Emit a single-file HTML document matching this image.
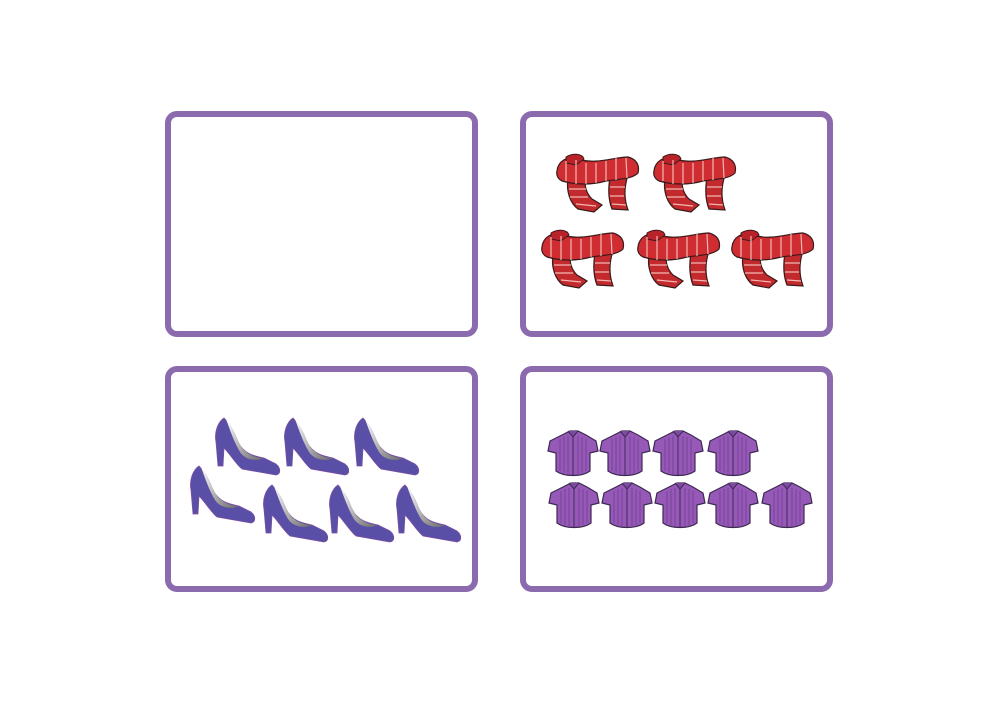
<!DOCTYPE html>
<html><head><meta charset="utf-8"><style>
html,body{margin:0;padding:0;background:#fff;width:1000px;height:703px;overflow:hidden}
</style></head><body>
<svg width="1000" height="703" viewBox="0 0 1000 703">
<defs>
<linearGradient id="inner" x1="0" y1="0" x2="1" y2="1"><stop offset="0" stop-color="#fff"/><stop offset="1" stop-color="#6a6a6a"/></linearGradient>
<g id="scarf">
<path d="M12,26 C10,38 14,50 22,56 L38,59 L46,52 L36,46 C30,40 28,32 30,26 Z" fill="#c22a2e" stroke="#3a1a1a" stroke-width="1.2"/>
<path d="M54,24 C52,36 52,46 56,56 L72,57 C68,46 68,34 72,22 Z" fill="#c22a2e" stroke="#3a1a1a" stroke-width="1.2"/>
<path d="M1,18 C2,8 12,2 22,6 C40,12 58,4 72,4 C80,6 84,12 82,20 C76,26 64,26 50,28 C36,32 20,32 6,28 C2,26 0,22 1,18 Z" fill="#cf2d32" stroke="#3a1a1a" stroke-width="1.2"/>
<path d="M10,4 C16,0 26,0 28,6 L20,12 L10,10 Z" fill="#b82228" stroke="#3a1a1a" stroke-width="1"/>
<g stroke="#f3b7b0" stroke-width="1.2" fill="none">
<path d="M10,8 L10,28 M20,7 L20,31 M30,10 L30,31 M40,10 L40,30 M50,8 L50,28 M60,5 L60,27 M70,5 L71,25"/>
<path d="M13,36 L30,36 M14,44 L32,44 M20,51 L40,53 M54,34 L69,34 M54,43 L68,43 M56,51 L70,52"/>
</g>
</g>
<g id="shoe">
<path d="M10,0 C4,4 0,14 2,24 L4,48 L9,48 L10,30 C16,36 22,46 28,51 L62,57 C67,56 67,50 62,46 L50,40 C40,38 30,36 24,24 C20,14 16,6 10,0 Z" fill="#5a4fa6" stroke="#7b4fa0" stroke-width="0.8"/>
<path d="M12,1 C18,8 22,20 28,30 C34,37 42,40 50,40 L44,42 C36,42 30,40 26,34 C20,24 16,12 12,1 Z" fill="url(#inner)"/>
</g>
<g id="shirt">
<path d="M14,4 L22,0 L30,0 L38,4 L48,10 L50,20 L42,22 L42,40 C34,46 16,46 8,40 L8,22 L0,20 L2,10 Z" fill="#9659b8" stroke="#3d2a52" stroke-width="1.2"/>
<g stroke="#6e3d8c" stroke-width="0.8"><path d="M12,8 L12,40 M16,6 L16,42 M20,5 L20,43 M30,5 L30,43 M34,6 L34,42 M38,8 L38,40"/></g>
<path d="M25,4 L25,44" stroke="#3d2a52" stroke-width="1"/>
<path d="M20,0 L25,6 L30,0" fill="#7d4aa0" stroke="#3d2a52" stroke-width="1"/>
</g>
</defs>
<rect x="168" y="114" width="307" height="220" rx="9" fill="#fff" stroke="#8b6bae" stroke-width="6"/>
<rect x="523" y="114" width="307" height="220" rx="9" fill="#fff" stroke="#8b6bae" stroke-width="6"/>
<rect x="168" y="369" width="307" height="220" rx="9" fill="#fff" stroke="#8b6bae" stroke-width="6"/>
<rect x="523" y="369" width="307" height="220" rx="9" fill="#fff" stroke="#8b6bae" stroke-width="6"/>
<g>
<use href="#scarf" x="556" y="153"/><use href="#scarf" x="653" y="153"/>
<use href="#scarf" x="541" y="229"/><use href="#scarf" x="637" y="229"/><use href="#scarf" x="731" y="229"/>
</g>
<g>
<use href="#shoe" x="214" y="418"/><use href="#shoe" x="283" y="418"/><use href="#shoe" x="353" y="418"/>
<use href="#shoe" x="189" y="466"/><use href="#shoe" x="262" y="485"/><use href="#shoe" x="328" y="485"/><use href="#shoe" x="395" y="485"/>
</g>
<g>
<use href="#shirt" x="548" y="431"/><use href="#shirt" x="600" y="431"/><use href="#shirt" x="653" y="431"/><use href="#shirt" x="708" y="431"/>
<use href="#shirt" x="549" y="483"/><use href="#shirt" x="602" y="483"/><use href="#shirt" x="655" y="483"/><use href="#shirt" x="708" y="483"/><use href="#shirt" x="762" y="483"/>
</g>
</svg>
</body></html>
